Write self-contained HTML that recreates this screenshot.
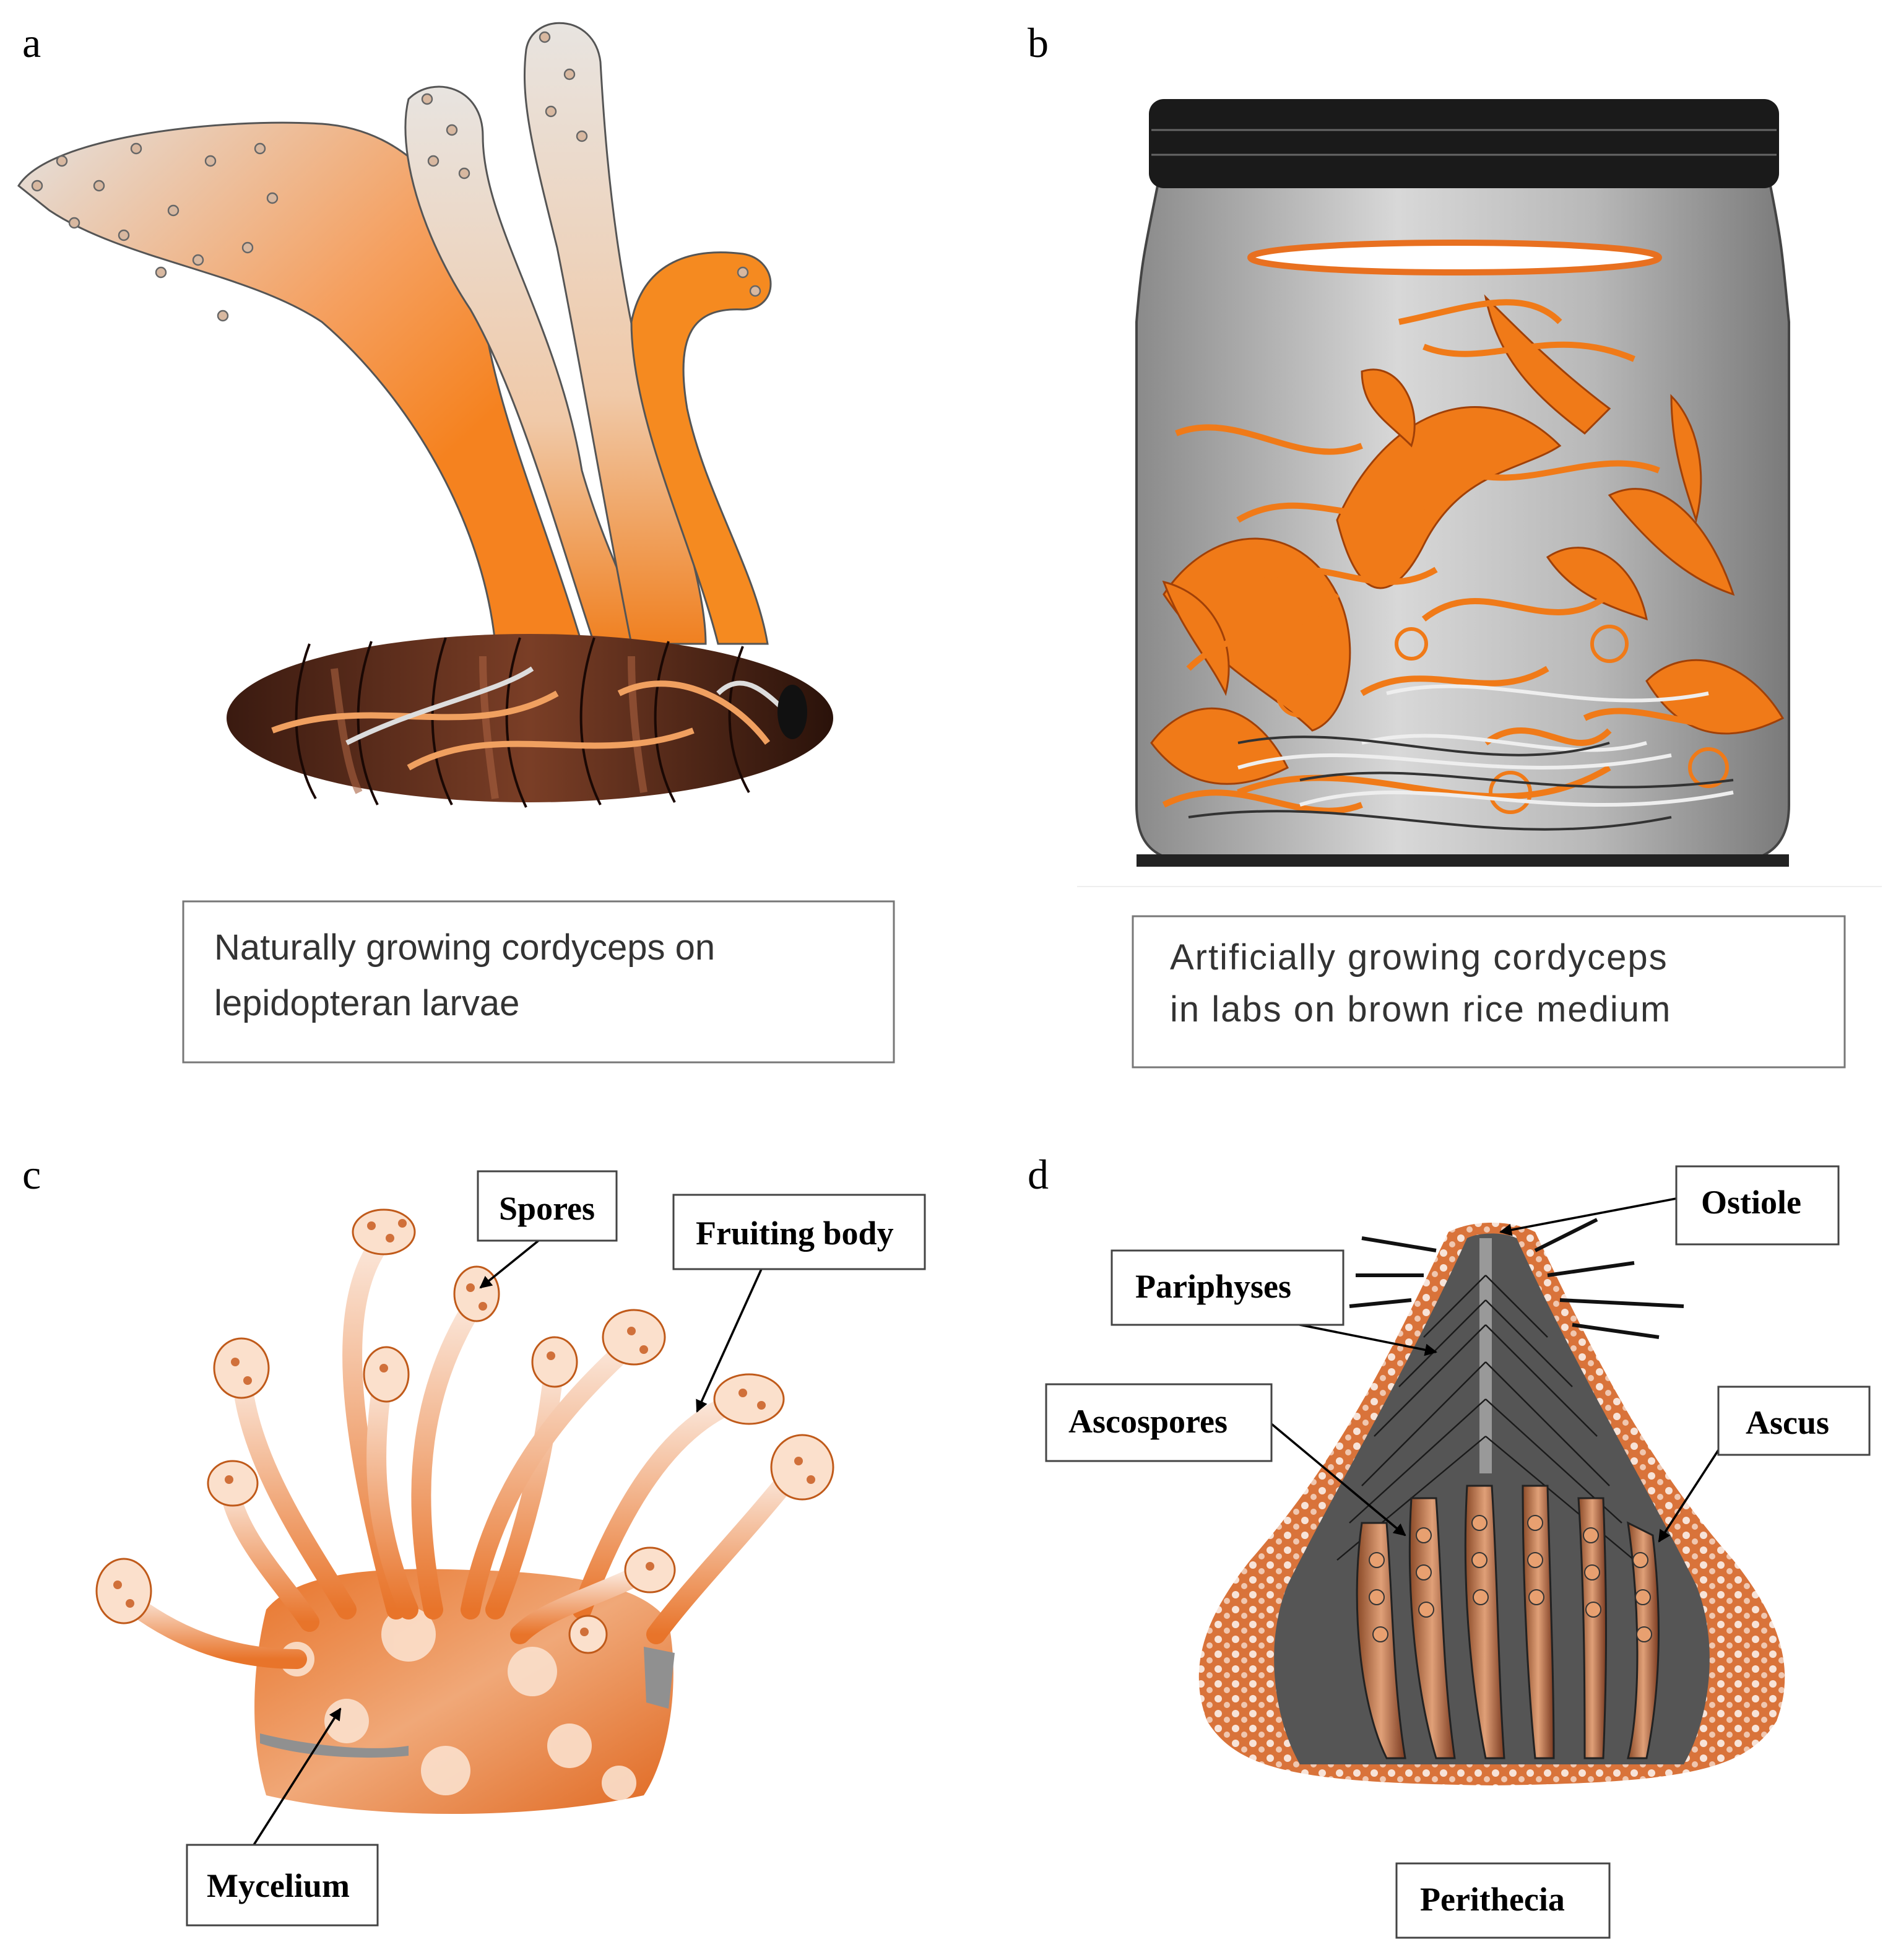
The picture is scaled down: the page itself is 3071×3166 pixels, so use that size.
<!DOCTYPE html>
<html><head><meta charset="utf-8">
<style>html,body{margin:0;padding:0;background:#fff}svg{display:block}</style>
</head><body>
<svg width="3071" height="3166" viewBox="0 0 1535.5 1583" xmlns="http://www.w3.org/2000/svg">
<defs>
<linearGradient id="fade" x1="0" y1="0" x2="1" y2="1"><stop offset="0" stop-color="#e4e2e0"/><stop offset="0.45" stop-color="#f5a060"/><stop offset="0.7" stop-color="#f5821f"/><stop offset="1" stop-color="#f5821f"/></linearGradient>
<linearGradient id="fadev" x1="0" y1="0" x2="0" y2="1"><stop offset="0" stop-color="#e8e4e0"/><stop offset="0.6" stop-color="#f0c9a8"/><stop offset="1" stop-color="#f08020"/></linearGradient>
<linearGradient id="brown" x1="0" y1="0" x2="1" y2="0"><stop offset="0" stop-color="#3a1a10"/><stop offset="0.5" stop-color="#7a3e26"/><stop offset="1" stop-color="#2a120a"/></linearGradient>
<linearGradient id="jar" x1="0" y1="0" x2="1" y2="0"><stop offset="0" stop-color="#8a8a8a"/><stop offset="0.4" stop-color="#d8d8d8"/><stop offset="0.7" stop-color="#b8b8b8"/><stop offset="1" stop-color="#7a7a7a"/></linearGradient>
<linearGradient id="stk" x1="0" y1="0" x2="0" y2="1"><stop offset="0" stop-color="#fbe8dc"/><stop offset="1" stop-color="#e8742a"/></linearGradient>
<linearGradient id="myc" x1="0" y1="0" x2="1" y2="1"><stop offset="0" stop-color="#e8742a"/><stop offset="0.5" stop-color="#f0a878"/><stop offset="1" stop-color="#e06820"/></linearGradient>
<linearGradient id="asc" x1="0" y1="0" x2="1" y2="0"><stop offset="0" stop-color="#8a4a28"/><stop offset="0.5" stop-color="#e0a078"/><stop offset="1" stop-color="#7a3a20"/></linearGradient>
<pattern id="mot" width="14" height="12" patternUnits="userSpaceOnUse"><rect width="14" height="12" fill="#d9733a"/><circle cx="4" cy="4" r="3" fill="#fff" opacity="0.8"/><circle cx="11" cy="9" r="2.5" fill="#fff" opacity="0.6"/></pattern>
<marker id="ar" markerWidth="10" markerHeight="10" refX="9" refY="5" orient="auto" markerUnits="userSpaceOnUse"><path d="M0,0 L10,5 L0,10 z" fill="#000"/></marker>
</defs>
<g font-family="'Liberation Serif',serif" font-size="34" fill="#000">
<text x="18" y="46">a</text><text x="830" y="46">b</text>
<text x="18" y="960">c</text><text x="830" y="960">d</text>
</g>

<!-- Panel a -->
<path d="M15,150 C40,110 180,95 260,100 C330,105 380,160 390,250 C400,330 440,420 470,520 L400,520 C390,420 330,320 260,260 C200,220 100,210 40,170 Z" fill="url(#fade)" stroke="#555" stroke-width="1.5"/>
<path d="M330,80 C350,60 390,70 390,110 C390,180 450,260 470,380 C490,450 520,500 520,520 L480,520 C450,430 420,320 380,250 C340,190 320,120 330,80 Z" fill="url(#fadev)" stroke="#555" stroke-width="1.5"/>
<path d="M425,40 C430,10 480,10 485,50 C490,140 500,250 540,380 C560,450 570,490 570,520 L510,520 C490,420 470,300 450,200 C430,120 420,80 425,40 Z" fill="url(#fadev)" stroke="#555" stroke-width="1.5"/>
<path d="M510,260 C520,210 560,200 600,205 C630,210 630,250 600,250 C560,248 545,270 555,330 C570,400 610,460 620,520 L580,520 C560,440 510,340 510,260 Z" fill="#f58a20" stroke="#555" stroke-width="1.5"/>
<g fill="#d8b8a0" stroke="#666" stroke-width="1.2">
<circle cx="50" cy="130" r="4"/><circle cx="80" cy="150" r="4"/><circle cx="110" cy="120" r="4"/><circle cx="140" cy="170" r="4"/><circle cx="170" cy="130" r="4"/><circle cx="200" cy="200" r="4"/><circle cx="60" cy="180" r="4"/><circle cx="100" cy="190" r="4"/><circle cx="160" cy="210" r="4"/><circle cx="210" cy="120" r="4"/><circle cx="180" cy="255" r="4"/><circle cx="130" cy="220" r="4"/><circle cx="220" cy="160" r="4"/><circle cx="30" cy="150" r="4"/>
<circle cx="345" cy="80" r="4"/><circle cx="365" cy="105" r="4"/><circle cx="350" cy="130" r="4"/><circle cx="375" cy="140" r="4"/><circle cx="440" cy="30" r="4"/><circle cx="460" cy="60" r="4"/><circle cx="445" cy="90" r="4"/><circle cx="470" cy="110" r="4"/><circle cx="600" cy="220" r="4"/><circle cx="610" cy="235" r="4"/>
</g>
<ellipse cx="428" cy="580" rx="245" ry="68" fill="url(#brown)"/>
<g stroke="#1a0804" stroke-width="2" fill="none">
<path d="M250,520 C235,560 235,610 255,645"/><path d="M300,518 C285,560 285,610 305,650"/><path d="M360,515 C345,560 345,610 365,650"/><path d="M420,515 C405,560 405,610 425,652"/><path d="M480,515 C465,560 465,610 485,650"/><path d="M540,518 C525,560 525,610 545,648"/><path d="M600,522 C585,560 585,605 605,640"/></g>
<g stroke="#a86040" stroke-width="6" fill="none" opacity="0.6"><path d="M270,540 C275,580 280,620 290,640"/><path d="M390,530 C390,570 395,610 400,645"/><path d="M510,530 C510,570 515,610 520,640"/></g>
<g stroke="#f0a060" stroke-width="5" fill="none"><path d="M220,590 C300,560 380,600 450,560"/><path d="M330,620 C400,580 480,620 560,590"/><path d="M500,560 C540,540 590,560 620,600"/></g>
<g stroke="#ddd" stroke-width="4" fill="none"><path d="M280,600 C340,570 400,560 430,540"/><path d="M580,560 C600,540 620,560 640,580"/></g>
<ellipse cx="640" cy="575" rx="12" ry="22" fill="#111"/>
<rect x="148" y="728" width="574" height="130" fill="#fff" stroke="#777" stroke-width="1.5"/>
<g font-family="'Liberation Sans',sans-serif" font-size="29" fill="#333"><text x="173" y="775">Naturally growing cordyceps on</text><text x="173" y="820">lepidopteran larvae</text></g>

<!-- Panel b -->
<path d="M935,150 L1430,150 C1440,200 1440,210 1445,260 L1445,650 C1445,690 1420,698 1380,698 L985,698 C940,698 918,690 918,650 L918,260 C922,210 925,200 935,150 Z" fill="url(#jar)" stroke="#444" stroke-width="2"/>
<rect x="928" y="80" width="509" height="72" rx="12" fill="#1a1a1a"/>
<g stroke="#666" stroke-width="1.5"><line x1="930" y1="105" x2="1435" y2="105"/><line x1="930" y1="125" x2="1435" y2="125"/></g>
<ellipse cx="1175" cy="208" rx="165" ry="12" fill="#fff" stroke="#e87020" stroke-width="5"/>
<rect x="918" y="690" width="527" height="10" fill="#222"/>
<g fill="#f07a18" stroke="#a04008" stroke-width="1.5">
<path d="M940,480 C980,420 1050,420 1080,480 C1100,520 1090,580 1060,590 C1030,560 980,540 940,480 Z"/>
<path d="M1080,420 C1120,330 1200,300 1260,360 C1230,380 1180,380 1150,440 C1130,480 1100,500 1080,420 Z"/>
<path d="M1200,240 C1230,270 1260,300 1300,330 L1280,350 C1240,320 1210,290 1200,240 Z"/>
<path d="M1300,400 C1340,380 1380,420 1400,480 C1370,470 1340,450 1300,400 Z"/>
<path d="M930,600 C960,560 1010,560 1040,620 C1000,640 960,640 930,600 Z"/>
<path d="M1330,550 C1360,520 1410,530 1440,580 C1400,600 1360,600 1330,550 Z"/>
<path d="M1100,300 C1130,290 1150,330 1140,360 C1120,340 1100,330 1100,300 Z"/>
<path d="M940,470 C980,480 1000,520 990,560 C975,530 955,510 940,470 Z"/>
<path d="M1250,450 C1280,430 1320,450 1330,500 C1300,490 1270,480 1250,450 Z"/>
<path d="M1350,320 C1370,340 1380,380 1370,420 C1360,390 1350,360 1350,320 Z"/>
</g>
<g fill="none" stroke="#f07a18" stroke-width="5">
<path d="M950,350 C1000,330 1050,380 1100,360"/><path d="M1150,280 C1200,300 1250,260 1320,290"/><path d="M1000,640 C1100,600 1200,680 1300,620"/><path d="M1150,500 C1200,460 1250,520 1300,480"/><path d="M960,540 C1000,500 1050,520 1080,480"/>
<path d="M1130,260 C1180,250 1230,230 1260,260"/><path d="M1000,420 C1050,390 1100,430 1150,410"/><path d="M1180,380 C1230,400 1290,360 1340,380"/><path d="M1100,560 C1150,530 1200,570 1250,540"/><path d="M1280,580 C1320,560 1380,600 1420,580"/><path d="M940,650 C1000,620 1050,670 1100,650"/><path d="M1200,600 C1240,570 1270,620 1300,590"/><path d="M1020,470 C1060,440 1110,490 1160,460"/></g>
<g fill="none" stroke="#f07a18" stroke-width="3"><circle cx="1050" cy="560" r="18"/><circle cx="1300" cy="520" r="14"/><circle cx="1220" cy="640" r="16"/><circle cx="1380" cy="620" r="15"/><circle cx="1140" cy="520" r="12"/></g>
<g fill="none" stroke="#eee" stroke-width="3"><path d="M1000,620 C1100,590 1200,640 1350,610"/><path d="M1050,650 C1150,620 1250,670 1400,640"/><path d="M1120,560 C1200,540 1280,580 1380,560"/><path d="M1100,600 C1180,580 1260,620 1330,600"/></g>
<g fill="none" stroke="#333" stroke-width="2"><path d="M960,660 C1100,640 1200,690 1350,660"/><path d="M1000,600 C1100,580 1200,630 1300,600"/><path d="M1050,630 C1150,610 1250,650 1400,630"/></g>
<path d="M870,716 L1520,716" stroke="#eee" stroke-width="1"/>
<rect x="915" y="740" width="575" height="122" fill="#fff" stroke="#777" stroke-width="1.5"/>
<g font-family="'Liberation Sans',sans-serif" font-size="29" fill="#333" letter-spacing="1"><text x="945" y="783">Artificially growing cordyceps</text><text x="945" y="825">in labs on brown rice medium</text></g>

<!-- Panel c -->
<path d="M215,1300 C240,1270 300,1265 380,1268 C460,1270 520,1280 540,1310 C550,1360 540,1420 520,1450 C430,1470 300,1470 215,1450 C200,1400 205,1340 215,1300 Z" fill="url(#myc)"/>
<g fill="#fbe0cc" opacity="0.9"><circle cx="330" cy="1320" r="22"/><circle cx="430" cy="1350" r="20"/><circle cx="280" cy="1390" r="18"/><circle cx="460" cy="1410" r="18"/><circle cx="360" cy="1430" r="20"/><circle cx="240" cy="1340" r="14"/><circle cx="500" cy="1440" r="14"/></g>
<g fill="#909090"><path d="M520,1330 L545,1335 L540,1380 L522,1375 Z"/><path d="M210,1400 C250,1410 300,1415 330,1410 L330,1418 C290,1422 240,1418 210,1408 Z"/></g>
<g fill="none" stroke="url(#stk)" stroke-width="16" stroke-linecap="round">
<path d="M310,1000 C270,1050 280,1150 320,1300"/><path d="M385,1050 C340,1120 330,1200 350,1300"/><path d="M195,1110 C200,1180 250,1250 280,1300"/><path d="M310,1110 C300,1170 300,1230 330,1300"/><path d="M448,1100 C440,1180 420,1250 400,1300"/><path d="M510,1085 C450,1140 400,1200 380,1300"/><path d="M600,1130 C540,1150 500,1220 470,1300"/><path d="M640,1190 C600,1240 560,1280 530,1320"/><path d="M185,1200 C190,1240 230,1280 250,1310"/><path d="M100,1290 C150,1330 200,1340 240,1340"/><path d="M520,1270 C480,1290 440,1300 420,1320"/></g>
<g fill="#fbe0cc" stroke="#c05a1a" stroke-width="1.5">
<ellipse cx="310" cy="995" rx="25" ry="18"/><ellipse cx="385" cy="1045" rx="18" ry="22"/><ellipse cx="195" cy="1105" rx="22" ry="24"/><ellipse cx="312" cy="1110" rx="18" ry="22"/><ellipse cx="448" cy="1100" rx="18" ry="20"/><ellipse cx="512" cy="1080" rx="25" ry="22"/><ellipse cx="605" cy="1130" rx="28" ry="20"/><ellipse cx="648" cy="1185" rx="25" ry="26"/><ellipse cx="188" cy="1198" rx="20" ry="18"/><ellipse cx="100" cy="1285" rx="22" ry="26"/><ellipse cx="525" cy="1268" rx="20" ry="18"/><ellipse cx="475" cy="1320" rx="15" ry="15"/></g>
<g fill="#d0703a"><circle cx="300" cy="990" r="3.5"/><circle cx="315" cy="1000" r="3.5"/><circle cx="325" cy="988" r="3.5"/><circle cx="380" cy="1040" r="3.5"/><circle cx="390" cy="1055" r="3.5"/><circle cx="190" cy="1100" r="3.5"/><circle cx="200" cy="1115" r="3.5"/><circle cx="310" cy="1105" r="3.5"/><circle cx="445" cy="1095" r="3.5"/><circle cx="510" cy="1075" r="3.5"/><circle cx="520" cy="1090" r="3.5"/><circle cx="600" cy="1125" r="3.5"/><circle cx="615" cy="1135" r="3.5"/><circle cx="645" cy="1180" r="3.5"/><circle cx="655" cy="1195" r="3.5"/><circle cx="185" cy="1195" r="3.5"/><circle cx="95" cy="1280" r="3.5"/><circle cx="105" cy="1295" r="3.5"/><circle cx="525" cy="1265" r="3.5"/><circle cx="472" cy="1318" r="3.5"/></g>
<g stroke="#000" stroke-width="1.8" marker-end="url(#ar)"><line x1="435" y1="1002" x2="388" y2="1040"/><line x1="615" y1="1025" x2="563" y2="1140"/><line x1="205" y1="1490" x2="275" y2="1380"/></g>
<g fill="#fff" stroke="#444" stroke-width="1.5"><rect x="386" y="946" width="112" height="56"/><rect x="544" y="965" width="203" height="60"/><rect x="151" y="1490" width="154" height="65"/></g>
<g font-family="'Liberation Serif',serif" font-weight="bold" font-size="27" fill="#000"><text x="403" y="985">Spores</text><text x="562" y="1005">Fruiting body</text><text x="167" y="1532">Mycelium</text></g>

<!-- Panel d -->
<path d="M1170,995 C1190,985 1220,985 1240,995 C1290,1100 1330,1180 1400,1260 C1440,1310 1450,1350 1435,1390 C1410,1430 1360,1440 1205,1442 C1050,1440 1000,1430 975,1390 C960,1350 970,1310 1010,1260 C1080,1180 1120,1100 1170,995 Z" fill="url(#mot)"/>
<path d="M1185,1000 C1195,995 1215,995 1225,1000 C1270,1100 1330,1200 1370,1280 C1390,1330 1380,1390 1360,1425 L1050,1425 C1030,1390 1020,1330 1040,1280 C1080,1200 1140,1100 1185,1000 Z" fill="#555"/>
<path d="M1200,1000 L1200,1190" stroke="#999" stroke-width="10"/>
<g stroke="#1a1a1a" stroke-width="1.2" fill="none"><path d="M1200,1030 L1150,1080"/><path d="M1200,1050 L1130,1120"/><path d="M1200,1070 L1110,1160"/><path d="M1200,1030 L1250,1080"/><path d="M1200,1050 L1270,1120"/><path d="M1200,1070 L1290,1160"/><path d="M1200,1100 L1100,1200"/><path d="M1200,1100 L1300,1200"/><path d="M1200,1130 L1090,1230"/><path d="M1200,1130 L1310,1230"/><path d="M1200,1160 L1080,1260"/><path d="M1200,1160 L1320,1260"/></g>
<g fill="url(#asc)" stroke="#222" stroke-width="1.5">
<path d="M1100,1230 C1090,1300 1100,1380 1120,1420 L1135,1420 C1125,1360 1125,1290 1120,1230 Z"/><path d="M1140,1210 C1135,1290 1145,1370 1160,1420 L1175,1420 C1165,1350 1165,1280 1160,1210 Z"/><path d="M1185,1200 C1180,1290 1190,1370 1200,1420 L1215,1420 C1210,1350 1210,1280 1205,1200 Z"/><path d="M1230,1200 C1230,1290 1235,1370 1240,1420 L1255,1420 C1255,1350 1252,1280 1250,1200 Z"/><path d="M1275,1210 C1280,1290 1280,1370 1280,1420 L1295,1420 C1298,1350 1298,1290 1295,1210 Z"/><path d="M1315,1230 C1325,1300 1325,1380 1315,1420 L1330,1420 C1342,1360 1342,1300 1335,1240 Z"/></g>
<g fill="#e8a070" stroke="#333" stroke-width="1"><circle cx="1112" cy="1260" r="6"/><circle cx="1112" cy="1290" r="6"/><circle cx="1115" cy="1320" r="6"/><circle cx="1150" cy="1240" r="6"/><circle cx="1150" cy="1270" r="6"/><circle cx="1152" cy="1300" r="6"/><circle cx="1195" cy="1230" r="6"/><circle cx="1195" cy="1260" r="6"/><circle cx="1196" cy="1290" r="6"/><circle cx="1240" cy="1230" r="6"/><circle cx="1240" cy="1260" r="6"/><circle cx="1241" cy="1290" r="6"/><circle cx="1285" cy="1240" r="6"/><circle cx="1286" cy="1270" r="6"/><circle cx="1287" cy="1300" r="6"/><circle cx="1325" cy="1260" r="6"/><circle cx="1327" cy="1290" r="6"/><circle cx="1328" cy="1320" r="6"/></g>
<g stroke="#111" stroke-width="3"><line x1="1240" y1="1010" x2="1290" y2="985"/><line x1="1250" y1="1030" x2="1320" y2="1020"/><line x1="1260" y1="1050" x2="1360" y2="1055"/><line x1="1160" y1="1010" x2="1100" y2="1000"/><line x1="1150" y1="1030" x2="1095" y2="1030"/><line x1="1140" y1="1050" x2="1090" y2="1055"/><line x1="1270" y1="1070" x2="1340" y2="1080"/></g>
<g stroke="#000" stroke-width="1.8" marker-end="url(#ar)"><line x1="1354" y1="968" x2="1212" y2="995"/><line x1="1040" y1="1068" x2="1160" y2="1092"/><line x1="1027" y1="1150" x2="1135" y2="1240"/><line x1="1405" y1="1145" x2="1340" y2="1245"/></g>
<g fill="#fff" stroke="#444" stroke-width="1.5"><rect x="1354" y="942" width="131" height="63"/><rect x="898" y="1010" width="187" height="60"/><rect x="845" y="1118" width="182" height="62"/><rect x="1388" y="1120" width="122" height="55"/><rect x="1128" y="1505" width="172" height="60"/></g>
<g font-family="'Liberation Serif',serif" font-weight="bold" font-size="27" fill="#000"><text x="1374" y="980">Ostiole</text><text x="917" y="1048">Pariphyses</text><text x="863" y="1157">Ascospores</text><text x="1410" y="1158">Ascus</text><text x="1147" y="1543">Perithecia</text></g>
</svg>
</body></html>
